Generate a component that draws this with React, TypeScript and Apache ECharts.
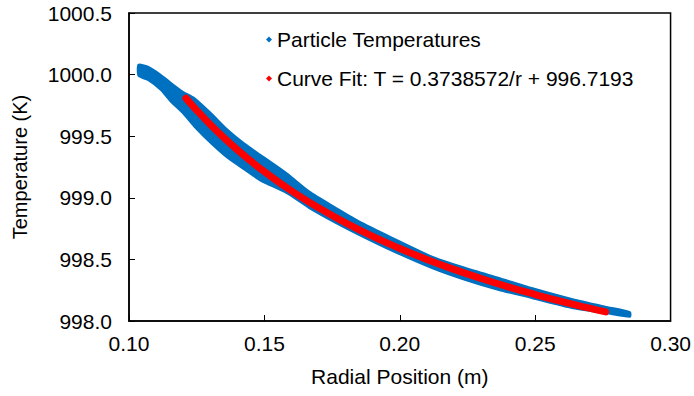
import React, { useEffect, useRef } from "react";
import * as echarts from "echarts";

const xTicks = [0.1, 0.15, 0.2, 0.25, 0.3];
const yTicks = [998.0, 998.5, 999.0, 999.5, 1000.0, 1000.5];

// Particle temperature cloud: read upper / lower edges of the blue band
const bandX = [0.1035, 0.107, 0.1118, 0.1155, 0.1199, 0.1242, 0.1302, 0.1365, 0.1426, 0.1486, 0.1581, 0.1666, 0.1765, 0.1851, 0.1972, 0.2119, 0.2243, 0.2366, 0.2487, 0.2635, 0.2759, 0.285];
const bandTop = [1000.08, 1000.064, 999.997, 999.932, 999.861, 999.808, 999.688, 999.55, 999.44, 999.347, 999.201, 999.05, 998.917, 998.806, 998.675, 998.522, 998.43, 998.349, 998.268, 998.179, 998.116, 998.072];
const bandBottom = [999.99, 999.956, 999.875, 999.78, 999.688, 999.577, 999.445, 999.323, 999.23, 999.14, 999.039, 998.917, 998.795, 998.698, 998.57, 998.43, 998.333, 998.252, 998.187, 998.106, 998.065, 998.035];

// Curve fit points
const fitX = [0.121, 0.125, 0.13, 0.135, 0.14, 0.145, 0.15, 0.16, 0.17, 0.18, 0.19, 0.2, 0.21, 0.22, 0.23, 0.24, 0.25, 0.26, 0.27, 0.276];
const fitY = [999.809, 999.71, 999.595, 999.489, 999.39, 999.298, 999.212, 999.056, 998.919, 998.796, 998.687, 998.589, 998.5, 998.419, 998.345, 998.277, 998.215, 998.157, 998.104, 998.074];

const seriesNames = ["Particle Temperatures", "Curve Fit: T = 0.3738572/r + 996.7193"];
const BLUE = "#0070C0";
const RED = "#FF0000";
const FONT = "Liberation Sans, Arial, sans-serif";

export default function App() {
  const ref = useRef<HTMLDivElement>(null);
  useEffect(() => {
    if (!ref.current) return;
    const chart = echarts.init(ref.current, null, { renderer: "svg" });
    chart.setOption({
      animation: false,
      backgroundColor: "#fff",
      grid: { left: 129, right: 22, top: 13, bottom: 75, show: true, borderColor: "#000", borderWidth: 1.5, backgroundColor: "transparent" },
      legend: {
        orient: "vertical",
        left: 261,
        top: 24,
        itemWidth: 6,
        itemHeight: 6,
        itemGap: 18,
        textStyle: { fontSize: 21, fontFamily: FONT, color: "#000" },
        data: [
          { name: seriesNames[0], icon: "diamond", itemStyle: { color: BLUE } },
          { name: seriesNames[1], icon: "diamond", itemStyle: { color: RED } },
        ],
      },
      xAxis: {
        type: "value",
        min: xTicks[0],
        max: xTicks[xTicks.length - 1],
        interval: 0.05,
        name: "Radial Position (m)",
        nameLocation: "middle",
        nameGap: 45,
        nameTextStyle: { fontSize: 21, fontFamily: FONT, color: "#000" },
        axisLine: { lineStyle: { color: "#000", width: 1.5 } },
        axisTick: { inside: true, length: 6, lineStyle: { color: "#000", width: 1 } },
        axisLabel: { fontSize: 21, fontFamily: FONT, color: "#000", margin: 12, formatter: (v: number) => v.toFixed(2) },
        splitLine: { show: false },
      },
      yAxis: {
        type: "value",
        min: yTicks[0],
        max: yTicks[yTicks.length - 1],
        interval: 0.5,
        name: "Temperature (K)",
        nameLocation: "middle",
        nameGap: 99,
        nameRotate: 90,
        nameTextStyle: { fontSize: 20, fontFamily: FONT, color: "#000" },
        axisLine: { show: true, lineStyle: { color: "#000", width: 1.5 } },
        axisTick: { show: true, inside: true, length: 6, lineStyle: { color: "#000", width: 1 } },
        axisLabel: { fontSize: 21, fontFamily: FONT, color: "#000", margin: 17, formatter: (v: number) => v.toFixed(1) },
        splitLine: { show: false },
      },
      series: [
        {
          type: "custom",
          name: seriesNames[0],
          coordinateSystem: "cartesian2d",
          itemStyle: { color: BLUE },
          data: [[bandX[0], bandTop[0]]],
          encode: { x: 0, y: 1 },
          renderItem: (params: any, api: any) => {
            const pts: number[][] = [];
            for (let i = 0; i < bandX.length; i++) pts.push(api.coord([bandX[i], bandTop[i]]));
            for (let i = bandX.length - 1; i >= 0; i--) pts.push(api.coord([bandX[i], bandBottom[i]]));
            return {
              type: "polygon",
              shape: { points: pts, smooth: 0.2 },
              style: { fill: BLUE, stroke: BLUE, lineWidth: 2, lineJoin: "round" },
            };
          },
          z: 2,
        },
        {
          type: "line",
          name: seriesNames[1],
          data: fitX.map((x, i) => [x, fitY[i]]),
          smooth: true,
          showSymbol: false,
          symbol: "diamond",
          itemStyle: { color: RED },
          lineStyle: { color: RED, width: 7, cap: "round" },
          z: 3,
        },
      ],
    });
    return () => chart.dispose();
  }, []);
  return <div ref={ref} style={{ position: "fixed", left: 0, top: 0, width: 694, height: 396 }} />;
}
